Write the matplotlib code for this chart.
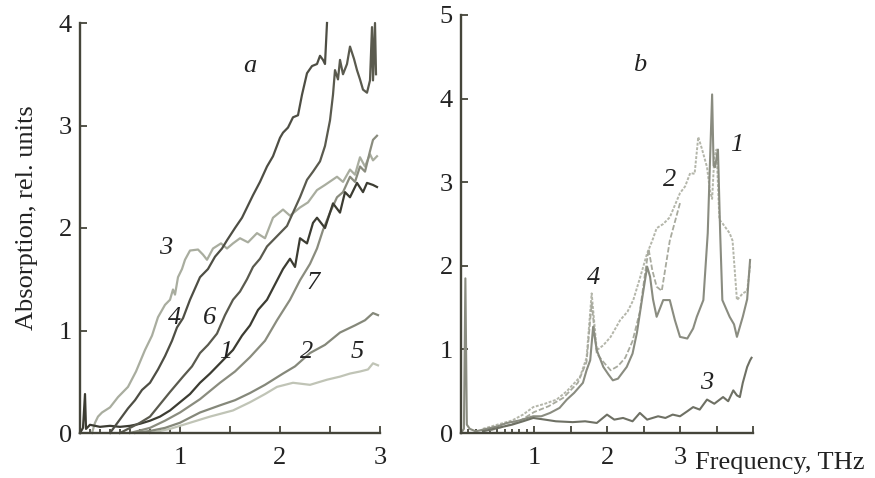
import matplotlib
matplotlib.use("Agg")
import matplotlib.pyplot as plt
from matplotlib import font_manager
import glob

# ---------------- Panel a data ----------------
a_x1 = [0.0,0.03,0.05,0.06,0.1,0.2,0.3,0.4,0.5,0.6,0.7,0.8,0.9,1.0,1.1,1.2,1.3,1.4,1.53,1.62,1.7,1.78,1.87,1.95,2.03,2.1,2.15,2.2,2.27,2.33,2.37,2.45,2.53,2.6,2.65,2.7,2.77,2.83,2.87,2.93,2.97]
a_y1 = [0.0,0.05,0.38,0.04,0.08,0.06,0.07,0.06,0.07,0.09,0.12,0.16,0.22,0.3,0.38,0.49,0.58,0.68,0.81,0.95,1.05,1.2,1.3,1.45,1.6,1.7,1.62,1.9,1.85,2.05,2.1,2.0,2.24,2.15,2.35,2.3,2.44,2.35,2.44,2.42,2.4]

a_x2 = [0.55,0.7,0.85,1.0,1.2,1.4,1.55,1.7,1.85,2.03,2.15,2.3,2.45,2.6,2.75,2.85,2.93,2.98]
a_y2 = [0.0,0.02,0.05,0.1,0.2,0.27,0.32,0.39,0.47,0.58,0.65,0.78,0.86,0.98,1.05,1.1,1.17,1.15]

a_x3 = [0.12,0.15,0.18,0.22,0.3,0.38,0.48,0.56,0.65,0.72,0.78,0.85,0.9,0.93,0.95,0.98,1.02,1.05,1.1,1.18,1.23,1.27,1.33,1.41,1.47,1.53,1.6,1.68,1.77,1.85,1.93,2.03,2.1,2.2,2.28,2.37,2.45,2.57,2.63,2.7,2.75,2.8,2.85,2.9,2.93,2.97]
a_y3 = [0.0,0.1,0.16,0.2,0.25,0.35,0.45,0.6,0.81,0.95,1.13,1.25,1.3,1.4,1.35,1.52,1.6,1.69,1.78,1.79,1.74,1.69,1.8,1.85,1.8,1.85,1.9,1.86,1.95,1.9,2.1,2.18,2.12,2.2,2.25,2.37,2.42,2.5,2.45,2.57,2.52,2.69,2.6,2.72,2.66,2.7]

a_x4 = [0.3,0.36,0.42,0.48,0.55,0.62,0.7,0.78,0.85,0.92,0.97,1.03,1.1,1.2,1.28,1.35,1.42,1.47,1.55,1.62,1.67,1.73,1.8,1.87,1.93,2.0,2.03,2.08,2.13,2.18,2.22,2.27,2.32,2.37,2.4,2.43,2.45,2.47]
a_y4 = [0.0,0.08,0.16,0.24,0.32,0.42,0.49,0.62,0.75,0.9,1.03,1.12,1.3,1.52,1.6,1.72,1.8,1.88,2.0,2.1,2.2,2.32,2.45,2.6,2.7,2.88,2.93,2.98,3.08,3.1,3.3,3.51,3.58,3.6,3.68,3.64,3.6,4.0]

a_x5 = [0.7,0.9,1.1,1.3,1.53,1.7,1.85,1.97,2.13,2.3,2.47,2.6,2.7,2.8,2.88,2.93,2.98]
a_y5 = [0.0,0.04,0.1,0.16,0.22,0.3,0.38,0.45,0.49,0.47,0.52,0.55,0.58,0.6,0.62,0.68,0.66]

a_x6 = [0.4,0.5,0.6,0.7,0.8,0.9,1.03,1.12,1.2,1.28,1.37,1.45,1.53,1.6,1.67,1.73,1.8,1.87,1.93,2.0,2.07,2.13,2.2,2.27,2.33,2.4,2.45,2.5,2.53,2.55,2.58,2.6,2.63,2.67,2.7,2.74,2.77,2.8,2.83,2.87,2.9,2.92,2.93,2.95,2.96]
a_y6 = [0.0,0.05,0.1,0.16,0.28,0.4,0.55,0.65,0.78,0.86,0.97,1.15,1.3,1.38,1.5,1.62,1.7,1.82,1.88,1.95,2.02,2.15,2.3,2.47,2.55,2.65,2.8,3.05,3.3,3.54,3.45,3.64,3.5,3.6,3.77,3.65,3.54,3.45,3.35,3.32,3.44,3.96,3.44,4.0,3.5]

a_x7 = [0.5,0.7,0.85,1.0,1.2,1.4,1.55,1.7,1.85,1.97,2.1,2.2,2.3,2.37,2.43,2.5,2.57,2.63,2.7,2.75,2.8,2.85,2.9,2.93,2.97]
a_y7 = [0.0,0.05,0.12,0.2,0.33,0.49,0.6,0.74,0.9,1.1,1.3,1.49,1.65,1.8,1.98,2.15,2.3,2.35,2.5,2.45,2.6,2.55,2.75,2.86,2.9]

# ---------------- Panel b data ----------------
b_x1 = [0.0,0.04,0.06,0.08,0.12,0.2,0.35,0.5,0.63,0.8,0.99,1.1,1.22,1.35,1.45,1.55,1.67,1.72,1.77,1.81,1.86,1.95,2.02,2.08,2.15,2.27,2.35,2.41,2.48,2.55,2.59,2.63,2.68,2.73,2.77,2.86,2.93,3.0,3.1,3.18,3.23,3.32,3.38,3.42,3.44,3.46,3.48,3.52,3.55,3.58,3.68,3.74,3.78,3.86,3.92,3.96]
b_y1 = [0.0,0.05,1.85,0.1,0.05,0.02,0.05,0.08,0.12,0.15,0.2,0.2,0.24,0.3,0.4,0.48,0.6,0.75,0.87,1.27,0.99,0.79,0.7,0.63,0.65,0.79,0.95,1.2,1.6,1.99,1.87,1.6,1.39,1.5,1.59,1.59,1.35,1.15,1.13,1.25,1.39,1.59,2.39,3.5,4.05,3.2,3.18,3.39,2.4,1.59,1.39,1.3,1.15,1.39,1.6,2.07]

b_x2 = [0.3,0.5,0.7,0.85,0.99,1.15,1.31,1.45,1.63,1.72,1.79,1.86,1.95,2.05,2.18,2.28,2.36,2.45,2.55,2.62,2.68,2.77,2.86,3.0,3.07,3.14,3.2,3.25,3.3,3.37,3.41,3.44,3.47,3.5,3.54,3.58,3.68,3.72,3.78,3.86,3.92,3.96]
b_y2 = [0.05,0.1,0.15,0.22,0.31,0.35,0.4,0.5,0.67,0.9,1.67,0.99,1.05,1.15,1.35,1.45,1.59,1.85,2.15,2.3,2.45,2.5,2.58,2.87,2.95,3.11,3.1,3.54,3.4,3.18,2.9,2.8,3.3,3.39,2.55,2.51,2.39,2.3,1.59,1.67,1.7,2.0]

b_x3 = [0.3,0.5,0.7,0.85,0.99,1.15,1.3,1.53,1.7,1.86,2.0,2.1,2.22,2.35,2.45,2.55,2.7,2.8,2.9,3.0,3.1,3.18,3.27,3.37,3.47,3.59,3.66,3.73,3.78,3.82,3.86,3.92,3.96,3.98]
b_y3 = [0.02,0.06,0.1,0.14,0.18,0.16,0.14,0.13,0.14,0.12,0.22,0.16,0.18,0.14,0.24,0.16,0.2,0.18,0.22,0.2,0.26,0.31,0.28,0.4,0.35,0.43,0.38,0.51,0.45,0.43,0.6,0.79,0.87,0.9]

b_x4 = [0.4,0.6,0.8,1.0,1.2,1.4,1.6,1.72,1.79,1.86,1.95,2.05,2.15,2.25,2.35,2.45,2.52,2.57,2.62,2.68,2.75,2.86,3.0]
b_y4 = [0.03,0.08,0.14,0.25,0.32,0.42,0.6,0.85,1.55,0.95,0.85,0.75,0.8,0.9,1.1,1.45,1.9,2.2,1.95,1.75,1.7,2.3,2.75]

a_labels = {"1": (1.46, 0.79), "2": (2.27, 0.79), "3": (0.86, 1.80), "4": (0.95, 1.12),
            "5": (2.77, 0.79), "6": (1.30, 1.12), "7": (2.33, 1.46)}
b_labels = {"1": (3.78, 3.44), "2": (2.86, 3.03), "3": (3.37, 0.60), "4": (1.82, 1.85)}

a_xticks = [1, 1.5, 2, 2.5, 3]
a_xticklabels = ["1", "", "2", "", "3"]
b_xticks = [1, 1.5, 2, 2.5, 3, 3.5, 4]
b_xticklabels = ["1", "", "2", "", "3", "", ""]
minor_ticks = [0.1, 0.2, 0.3, 0.4, 0.5, 0.6, 0.7, 0.8, 0.9]

# ---------------- Fonts ----------------
serif_name = None
for pat in ['/usr/share/fonts/**/LiberationSerif-Regular.ttf',
            '/usr/share/fonts/**/LiberationSerif*.ttf',
            '/usr/**/LiberationSerif*.ttf']:
    files = glob.glob(pat, recursive=True)
    for f in files:
        try:
            font_manager.fontManager.addfont(f)
            if serif_name is None:
                serif_name = font_manager.FontProperties(fname=f).get_name()
        except Exception:
            pass
    if files:
        break
if serif_name is None:
    for f in font_manager.fontManager.ttflist:
        if 'Liberation Serif' in f.name or 'Times' in f.name:
            serif_name = f.name
            break
families = [serif_name] if serif_name else []
plt.rcParams['font.family'] = families + ['DejaVu Serif']

FS = 19
AX = '#45453a'

fig = plt.figure(figsize=(8.75, 4.78), dpi=100)
fig.patch.set_facecolor('white')

axa = fig.add_axes([80/875, 1-433/478, 300/875, 410/478])
axb = fig.add_axes([461/875, 1-433/478, 292/875, 418/478])

def style(ax, xmax, ymax, xt, xtl):
    ax.set_xlim(0, xmax)
    ax.set_ylim(0, ymax)
    for s in ['top', 'right']:
        ax.spines[s].set_visible(False)
    for s in ['left', 'bottom']:
        ax.spines[s].set_color(AX)
        ax.spines[s].set_linewidth(1.7)
    ax.set_xticks(xt, labels=xtl)
    ax.set_xticks(minor_ticks, minor=True)
    ax.set_yticks(range(0, ymax + 1))
    ax.tick_params(axis='both', which='major', direction='in', length=5, width=1.3,
                   color=AX, labelsize=FS, labelcolor='#222222')
    ax.tick_params(axis='x', which='major', pad=10)
    ax.tick_params(axis='y', which='major', pad=6)
    ax.tick_params(axis='x', which='minor', direction='in', length=3, width=1.3, color=AX)

style(axa, 3, 4, a_xticks, a_xticklabels)
style(axb, 4, 5, b_xticks, b_xticklabels)

lw = 1.6
axa.plot(a_x3, a_y3, color='#a9ad9f', lw=lw, clip_on=False)
axa.plot(a_x5, a_y5, color='#c0c4b6', lw=lw, clip_on=False)
axa.plot(a_x2, a_y2, color='#85887a', lw=lw, clip_on=False)
axa.plot(a_x7, a_y7, color='#8a8c7e', lw=lw, clip_on=False)
axa.plot(a_x1, a_y1, color='#3c3c32', lw=lw, clip_on=False)
axa.plot(a_x6, a_y6, color='#5a5a4e', lw=lw, clip_on=False)
axa.plot(a_x4, a_y4, color='#4e4e44', lw=lw, clip_on=False)

axb.plot(b_x2, b_y2, color='#b4b6aa', lw=1.4, ls=(0, (1.5, 0.8)), clip_on=False)
axb.plot(b_x4, b_y4, color='#a8aa9e', lw=1.3, ls=(0, (3, 1.2)), clip_on=False)
axb.plot(b_x1, b_y1, color='#8a8c80', lw=1.5, clip_on=False)
axb.plot(b_x3, b_y3, color='#6e7064', lw=1.5, clip_on=False)

for k, (x, y) in a_labels.items():
    axa.text(x, y, k, fontsize=FS, style='italic', ha='center', va='center', color='#222222')
for k, (x, y) in b_labels.items():
    axb.text(x, y, k, fontsize=FS, style='italic', ha='center', va='center', color='#222222')

axa.text(1.7, 3.58, 'a', fontsize=FS, style='italic', ha='center', va='center', color='#222222')
axb.text(2.45, 4.4, 'b', fontsize=FS, style='italic', ha='center', va='center', color='#222222')

fig.text(27/875, 1-218/478, 'Absorption, rel. units', rotation=90, fontsize=FS,
         ha='center', va='center', color='#222222')
fig.text(695/875, 1-463/478, 'Frequency, THz', fontsize=FS, ha='left', va='center',
         color='#222222')

fig.savefig('out.png', dpi=100)
